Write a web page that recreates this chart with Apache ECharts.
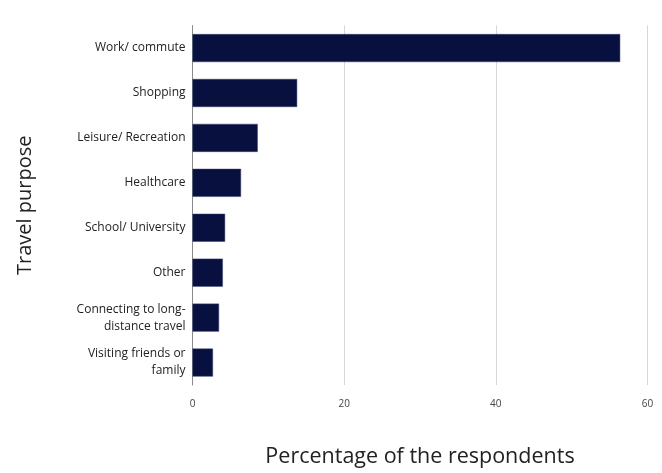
<!DOCTYPE html>
<html><head><meta charset="utf-8">
<script src="https://cdn.jsdelivr.net/npm/echarts@6/dist/echarts.min.js"></script>
<style>html,body{margin:0;padding:0;background:#fff}#c{width:662px;height:473px}</style>
</head><body><div id="c"></div>
<script>
const categories = ["Work/ commute", "Shopping", "Leisure/ Recreation", "Healthcare", "School/ University", "Other", "Connecting to long-\ndistance travel", "Visiting friends or\nfamily"];
const values = [56.4, 13.8, 8.6, 6.4, 4.3, 4.0, 3.5, 2.7];
const xTicks = [0, 20, 40, 60];

const chart = echarts.init(document.getElementById('c'), null, {renderer: 'canvas'});
chart.setOption({
  animation: false,
  backgroundColor: '#ffffff',
  grid: {left: 192.5, width: 455, top: 25.6, height: 363, containLabel: false},
  xAxis: {
    type: 'value', min: xTicks[0], max: xTicks[xTicks.length - 1], interval: 20,
    name: 'Percentage of the respondents', nameLocation: 'middle', nameGap: 61,
    nameTextStyle: {fontFamily: 'Open Sans', fontSize: 21.5, color: '#222'},
    axisLine: {show: false}, axisTick: {show: false},
    axisLabel: {fontFamily: 'Open Sans', fontSize: 10, color: '#444', margin: 14},
    splitLine: {lineStyle: {color: '#d6d6d6', width: 1}}
  },
  yAxis: {
    type: 'category', data: categories, inverse: true,
    name: 'Travel purpose', nameLocation: 'middle', nameGap: 157, nameRotate: 90,
    nameTextStyle: {fontFamily: 'Open Sans', fontSize: 20, color: '#222'},
    axisLine: {show: true, lineStyle: {color: '#8a8a8a', width: 1}},
    axisTick: {show: false},
    axisLabel: {fontFamily: 'Open Sans', fontSize: 12, color: '#222', margin: 7, lineHeight: 17, align: 'right'}
  },
  series: [{
    type: 'bar', data: values, barWidth: 28,
    itemStyle: {color: '#07103f', borderColor: '#3a4170', borderWidth: 0.5}
  }]
});
</script></body></html>
